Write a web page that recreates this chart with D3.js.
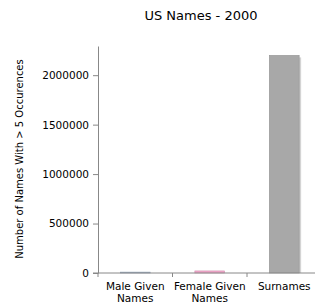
<!DOCTYPE html>
<html>
<head>
<meta charset="utf-8">
<script src="https://cdn.jsdelivr.net/npm/d3@7"></script>
<style>
  body { margin: 0; background: #fff; }
  text { font-family: "DejaVu Sans", Verdana, sans-serif; fill: #000; }
</style>
</head>
<body>
<div id="chart"></div>
<script>
// data
var categories = ["Male Given Names", "Female Given Names", "Surnames"];
var labelLines = [["Male Given", "Names"], ["Female Given", "Names"], ["Surnames"]];
var counts = [9000, 21000, 2200000];
var barColors = ["#9fb4cc", "#f2a6cb", "#a8a8a8"];
var yTicks = [0, 500000, 1000000, 1500000, 2000000];

var width = 315, height = 304;
var margin = { top: 46, right: 0, bottom: 31, left: 98 };

var svg = d3.select("#chart").append("svg")
  .attr("width", width)
  .attr("height", height);

var x = d3.scaleBand()
  .domain(categories)
  .range([margin.left, margin.left + 74.5 * 3])
  .paddingInner(0.6)
  .paddingOuter(0.3);

var y = d3.scaleLinear()
  .domain([0, 2295000])
  .range([height - margin.bottom, margin.top]);

// title
svg.append("text")
  .attr("x", 201)
  .attr("y", 20)
  .attr("text-anchor", "middle")
  .style("font-size", "13px")
  .text("US Names - 2000");

// y axis label
svg.append("text")
  .attr("transform", "translate(23," + 159 + ") rotate(-90)")
  .attr("text-anchor", "middle")
  .style("font-size", "10px")
  .text("Number of Names With > 5 Occurences");

// bars (with a soft shadow on the right)
var bars = svg.append("g").selectAll("g")
  .data(categories)
  .enter().append("g");

bars.append("rect")
  .attr("x", function (d) { return x(d) + 2; })
  .attr("y", function (d, i) { return y(counts[i]) + 2; })
  .attr("width", x.bandwidth())
  .attr("height", function (d, i) { return y(0) - y(counts[i]) - 2; })
  .attr("fill", "#d4d4d4");

bars.append("rect")
  .attr("x", function (d) { return x(d); })
  .attr("y", function (d, i) { return y(counts[i]); })
  .attr("width", x.bandwidth())
  .attr("height", function (d, i) { return y(0) - y(counts[i]); })
  .attr("fill", function (d, i) { return barColors[i]; })
  .attr("stroke", function (d, i) { return d3.color(barColors[i]).darker(0.4); })
  .attr("stroke-width", 0.6);

// y axis
var yAxis = svg.append("g")
  .attr("transform", "translate(" + margin.left + ",0)")
  .call(d3.axisLeft(y).tickValues(yTicks).tickFormat(d3.format("d")).tickSize(5).tickSizeOuter(0).tickPadding(4));
yAxis.select(".domain").attr("stroke", "#888");
yAxis.selectAll(".tick line").attr("stroke", "#888");
yAxis.selectAll("text").style("font-size", "10.5px").attr("fill", "#000");

// x axis
var xAxis = svg.append("g")
  .attr("transform", "translate(0," + y(0) + ")");
xAxis.append("line")
  .attr("x1", margin.left - 5).attr("x2", width)
  .attr("stroke", "#888");
xAxis.selectAll("line.sep")
  .data([0, 1, 2])
  .enter().append("line")
  .attr("class", "sep")
  .attr("x1", function (d) { return margin.left + 74.5 * d; })
  .attr("x2", function (d) { return margin.left + 74.5 * d; })
  .attr("y1", 0).attr("y2", 4)
  .attr("stroke", "#888");

var lbl = xAxis.selectAll("text.cat")
  .data(categories)
  .enter().append("text")
  .attr("class", "cat")
  .attr("x", function (d) { return x(d) + x.bandwidth() / 2; })
  .attr("y", 17)
  .attr("text-anchor", "middle")
  .style("font-size", "10.5px");
lbl.selectAll("tspan")
  .data(function (d, i) { return labelLines[i]; })
  .enter().append("tspan")
  .attr("x", function () { return d3.select(this.parentNode).attr("x"); })
  .attr("dy", function (d, i) { return i === 0 ? 0 : 12; })
  .text(function (d) { return d; });
</script>
</body>
</html>
